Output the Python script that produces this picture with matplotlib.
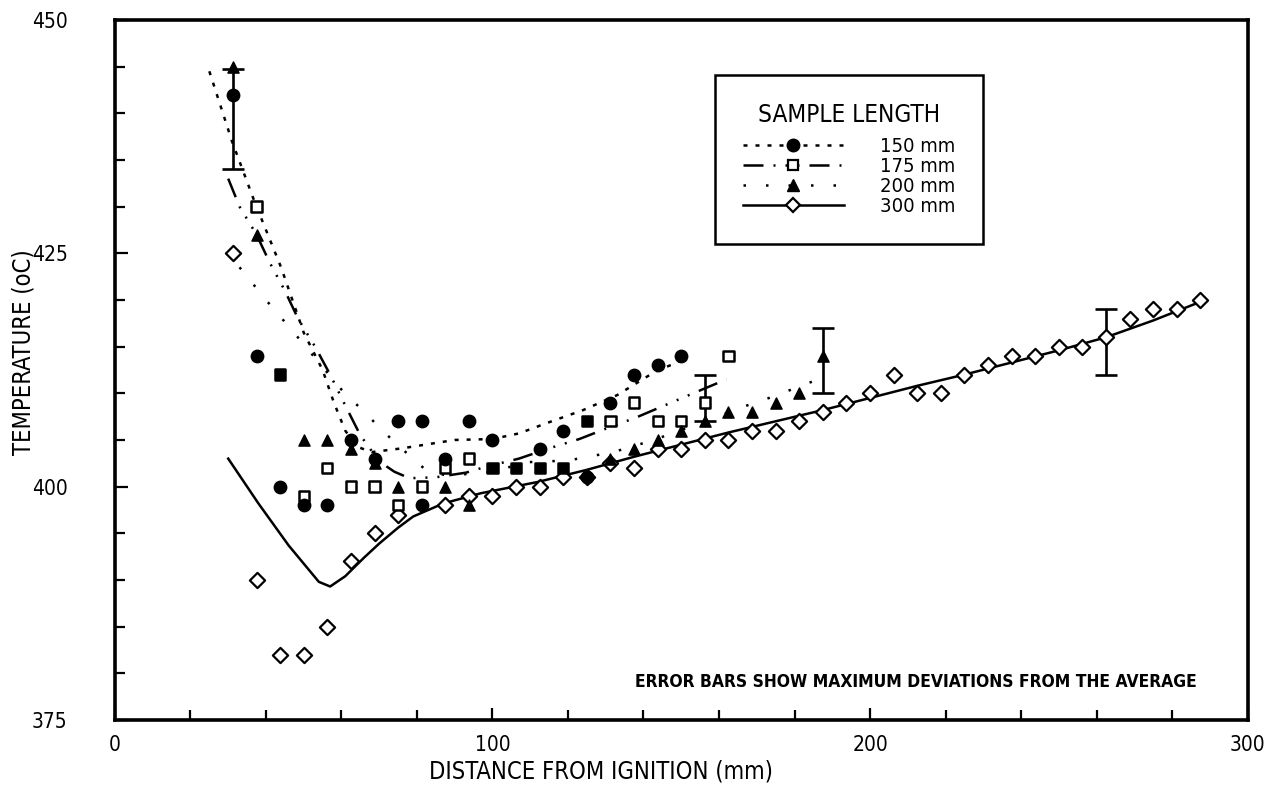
#!/usr/bin/env python3
# -*- coding: utf-8 -*-
"""
Flame temperature along the sample for four sample lengths.
"""
import matplotlib
matplotlib.use('Agg')
import matplotlib.pyplot as plt
from matplotlib.lines import Line2D

# measured points, 150 mm sample (filled circles)
x150 = [31.25, 37.5, 43.75, 50, 56.25, 62.5, 68.75, 75, 81.25, 81.25,
        87.5, 93.75, 100, 112.5, 118.75, 125, 131.25, 137.5, 143.75, 150]
y150 = [442, 414, 400, 398, 398, 405, 403, 407, 407, 398,
        403, 407, 405, 404, 406, 401, 409, 412, 413, 414]

# 175 mm sample (squares, some printed solid)
x175 = [37.5, 43.75, 50, 56.25, 62.5, 68.75, 75, 81.25, 87.5, 93.75, 100,
        106.25, 112.5, 118.75, 125, 131.25, 137.5, 143.75, 150, 156.25, 162.5]
y175 = [430, 412, 399, 402, 400, 400, 398, 400, 402, 403, 402,
        402, 402, 402, 407, 407, 409, 407, 407, 409, 414]
solid175 = [False, True, False, False, False, False, False, False, False, False, True,
            True, True, True, True, False, False, False, False, False, False]

# 200 mm sample (triangles)
x200 = [31.25, 37.5, 50, 56.25, 62.5, 68.75, 75, 87.5, 93.75, 131.25, 137.5,
        143.75, 150, 156.25, 162.5, 168.75, 175, 181.25, 187.5]
y200 = [445, 427, 405, 405, 404, 402.5, 400, 400, 398, 403, 404,
        405, 406, 407, 408, 408, 409, 410, 414]

# 300 mm sample (open diamonds)
x300 = [31.25, 37.5, 43.75, 50, 56.25, 62.5, 68.75, 75, 87.5, 93.75, 100,
        106.25, 112.5, 118.75, 125, 131.25, 137.5, 143.75, 150, 156.25, 162.5,
        168.75, 175, 181.25, 187.5, 193.75, 200, 206.25, 212.5, 218.75, 225,
        231.25, 237.5, 243.75, 250, 256.25, 262.5, 268.75, 275, 281.25, 287.5]
y300 = [425, 390, 382, 382, 385, 392, 395, 397, 398, 399, 399,
        400, 400, 401, 401, 402.5, 402, 404, 404, 405, 405,
        406, 406, 407, 408, 409, 410, 412, 410, 410, 412,
        413, 414, 414, 415, 415, 416, 418, 419, 419, 420]

# hand-faired average curves
c150_x = [25, 31, 37, 44, 50, 55, 58, 61, 64, 68, 76, 90, 100, 107, 115, 124, 133, 143, 150]
c150_y = [444.5, 437, 430.5, 423.5, 416.5, 412.5, 409, 406, 404.3, 403.7, 404.1, 405,
          405.1, 405.7, 406.9, 408.2, 409.8, 412.3, 413.5]

c175_x = [30, 33, 37.5, 41, 45, 48.5, 53, 57, 61, 65, 70, 74, 78, 85, 93, 98, 107,
          115, 123, 130, 138, 145, 152, 162]
c175_y = [433, 430, 427, 424, 421, 418, 415, 412, 408.7, 405.5, 402.7, 401.6, 400.9,
          401, 401.5, 402.1, 403, 404.1, 405.1, 406.2, 407.4, 408.6, 409.8, 411.5]

c200_x = [33, 40, 47, 54, 60, 64, 68, 71, 75, 79, 83, 88, 95, 101, 108, 120, 128,
          132, 139.5, 147, 158, 166, 174, 185]
c200_y = [423.5, 420, 416.7, 413.3, 410.4, 408.8, 407.2, 405.9, 404.5, 402.9, 401.6,
          401.2, 401.4, 401.6, 402.6, 402.8, 403.4, 403.7, 404.6, 405.6, 407.3, 408.5,
          409.6, 411.3]

c300_x = [30, 38, 46, 54, 57, 61, 66, 70, 75, 79, 87, 97, 112, 125, 137.5, 150, 162.5,
          175, 187.5, 200, 212.5, 225, 237.5, 250, 262.5, 275, 287.5]
c300_y = [403, 398.2, 393.7, 389.8, 389.3, 390.4, 392.4, 393.9, 395.6, 396.8, 398.2,
          399.3, 400.5, 401.8, 403.2, 404.5, 405.8, 407, 408.2, 409.5, 410.8, 412,
          413.3, 414.6, 416, 417.8, 419.8]

# maximum deviations from the average
err_x = [31.25, 156.25, 187.5, 262.5]
err_lo = [434, 407, 410, 412]
err_hi = [444.7, 412, 417, 419]

labels = ['150 mm', '175 mm', '200 mm', '300 mm']

DOT = (0, (1.6, 3.2))
DASHDOT = (0, (8, 4, 0.8, 4, 0.8, 4, 0.8, 4))
SPARSE = (0, (1.0, 8))


def main():
    plt.rcParams['font.family'] = ['DejaVu Sans']
    plt.rcParams['font.stretch'] = 'condensed'
    fig = plt.figure(figsize=(12.73, 7.89), dpi=100)
    ax = fig.add_axes([0.0903, 0.0875, 0.8897, 0.8872])

    ax.plot(c150_x, c150_y, color='k', lw=1.8, ls=DOT)
    ax.plot(c175_x, c175_y, color='k', lw=1.8, ls=DASHDOT)
    ax.plot(c200_x, c200_y, color='k', lw=1.8, ls=SPARSE)
    ax.plot(c300_x, c300_y, color='k', lw=1.8, ls='-')

    ax.errorbar(err_x, [(a + b) / 2 for a, b in zip(err_lo, err_hi)],
                yerr=[[(b - a) / 2 for a, b in zip(err_lo, err_hi)]] * 2,
                fmt='none', ecolor='k', elinewidth=1.9, capsize=8, capthick=1.9)

    face175 = ['k' if s else 'white' for s in solid175]
    ax.scatter(x300, y300, marker='D', s=60, facecolor='white', edgecolor='k',
               linewidth=1.6, zorder=3)
    ax.scatter(x175, y175, marker='s', s=55, facecolor=face175, edgecolor='k',
               linewidth=1.8, zorder=4)
    ax.scatter(x200, y200, marker='^', s=65, color='k', zorder=5)
    ax.scatter(x150, y150, marker='o', s=80, color='k', zorder=6)

    ax.set_xlim(0, 300)
    ax.set_ylim(375, 450)
    ax.set_xticks([0, 100, 200, 300])
    ax.set_xticks(range(0, 301, 20), minor=True)
    ax.set_yticks([375, 400, 425, 450])
    ax.set_yticks(range(375, 451, 5), minor=True)
    ax.tick_params(which='both', direction='in', width=1.6, labelsize=15,
                   top=False, right=False)
    ax.tick_params(which='major', length=9)
    ax.tick_params(which='minor', length=7)
    ax.tick_params(axis='x', pad=11)
    ax.tick_params(axis='y', pad=34)
    for sp in ax.spines.values():
        sp.set_linewidth(2.6)

    ax.set_xlabel('DISTANCE FROM IGNITION (mm)', fontsize=17)
    ax.xaxis.set_label_coords(0.429, -0.057)
    ax.set_ylabel('TEMPERATURE (oC)', fontsize=17)
    ax.yaxis.set_label_coords(-0.07, 0.526)

    ax.text(0.955, 0.054, 'ERROR BARS SHOW MAXIMUM DEVIATIONS FROM THE AVERAGE',
            transform=ax.transAxes, ha='right', va='center', fontsize=12.5,
            fontweight='bold')

    handles = [
        Line2D([], [], color='k', lw=1.8, ls=DOT, marker='o', ms=9),
        Line2D([], [], color='k', lw=1.8, ls=DASHDOT, marker='s', ms=7,
               mfc='white', mew=1.6),
        Line2D([], [], color='k', lw=1.8, ls=SPARSE, marker='^', ms=8),
        Line2D([], [], color='k', lw=1.8, ls='-', marker='D', ms=7,
               mfc='white', mew=1.6),
    ]
    leg = ax.legend(handles, labels, title='SAMPLE LENGTH', loc='upper left',
                    bbox_to_anchor=(0.5296, 0.9214), borderaxespad=0,
                    fontsize=14.5, title_fontsize=17.5, numpoints=1,
                    handlelength=5.0, handletextpad=1.8, labelspacing=0.05,
                    borderpad=1.4, fancybox=False, framealpha=1, edgecolor='k')
    leg.get_frame().set_linewidth(1.8)
    leg._legend_box.sep = 7

    fig.savefig('out.png', dpi=100)


if __name__ == "__main__":
    main()
